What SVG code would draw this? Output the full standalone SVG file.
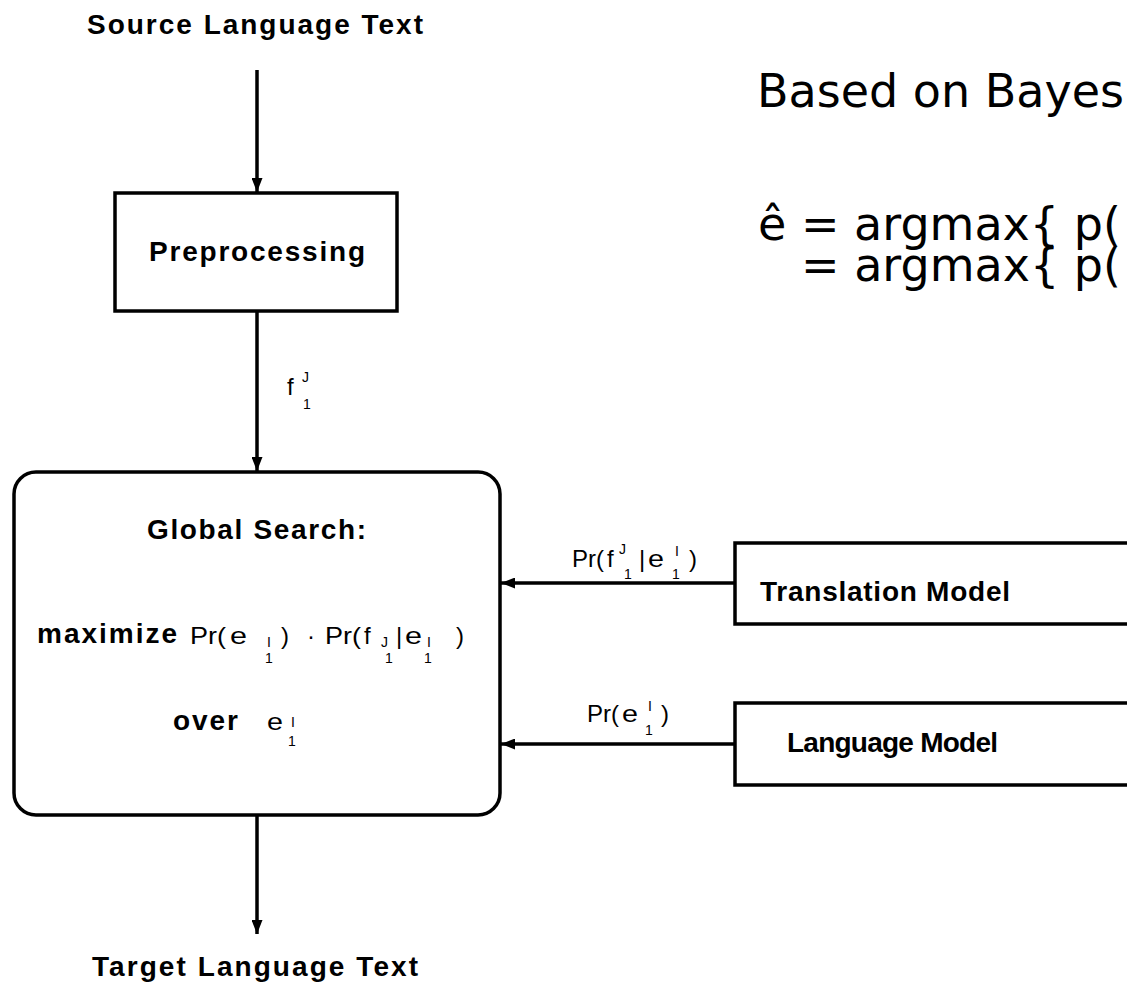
<svg xmlns="http://www.w3.org/2000/svg" width="1127" height="982" viewBox="0 0 1127 982">
  <style>
    .box { fill: #ffffff; stroke: #000000; stroke-width: 3.5; }
    .edge { fill: none; stroke: #000000; stroke-width: 3.5; }
    .lbl { font-family: "Liberation Sans", Arial, sans-serif; font-weight: bold; font-size: 28px; fill: #000000; }
    .math { font-family: "Liberation Sans", Arial, sans-serif; font-size: 24px; fill: #000000; }
    .idx { font-family: "Liberation Sans", Arial, sans-serif; font-size: 14px; fill: #000000; }
    .note { font-family: "DejaVu Sans", Verdana, sans-serif; font-size: 46px; fill: #000000; }
  </style>
  <defs>
    <marker id="arrow" viewBox="0 0 14 11" refX="14" refY="5.5" markerWidth="14" markerHeight="11" markerUnits="userSpaceOnUse" orient="auto">
      <path d="M0,0 L14,5.5 L0,11 Z" fill="#000000"/>
    </marker>
  </defs>

  <rect width="1127" height="982" fill="#ffffff"/>

  <!-- connectors -->
  <g id="connectors">
    <line class="edge" x1="257" y1="70" x2="257" y2="192" marker-end="url(#arrow)"/>
    <line class="edge" x1="257" y1="312" x2="257" y2="471" marker-end="url(#arrow)"/>
    <line class="edge" x1="257" y1="816" x2="257" y2="934" marker-end="url(#arrow)"/>
    <line class="edge" x1="735" y1="583" x2="501" y2="583" marker-end="url(#arrow)"/>
    <line class="edge" x1="735" y1="744" x2="501" y2="744" marker-end="url(#arrow)"/>
    <!-- edge labels -->
    <g id="label-fJ1">
      <text class="math" x="287" y="395">f</text>
      <text class="idx" x="302" y="382">J</text>
      <text class="idx" x="303" y="409">1</text>
    </g>
    <g id="label-translation">
      <text class="math" x="572" y="567" textLength="32" lengthAdjust="spacingAndGlyphs">Pr(</text>
      <text class="math" x="607" y="567">f</text>
      <text class="idx" x="619" y="554">J</text>
      <text class="idx" x="624" y="579">1</text>
      <text class="math" x="639" y="567">|</text>
      <text class="math" x="648" y="567" textLength="16" lengthAdjust="spacingAndGlyphs">e</text>
      <text class="idx" x="675" y="556">I</text>
      <text class="idx" x="672" y="579">1</text>
      <text class="math" x="689" y="567">)</text>
    </g>
    <g id="label-language">
      <text class="math" x="587" y="722" textLength="32" lengthAdjust="spacingAndGlyphs">Pr(</text>
      <text class="math" x="622" y="722" textLength="16" lengthAdjust="spacingAndGlyphs">e</text>
      <text class="idx" x="648" y="711">I</text>
      <text class="idx" x="645" y="735">1</text>
      <text class="math" x="661" y="722">)</text>
    </g>
  </g>

  <!-- terminals -->
  <g id="source">
    <text class="lbl" x="87" y="34" textLength="336" lengthAdjust="spacing">Source Language Text</text>
  </g>
  <g id="target">
    <text class="lbl" x="92" y="976" textLength="326" lengthAdjust="spacing">Target Language Text</text>
  </g>

  <!-- nodes -->
  <g id="preprocessing">
    <rect class="box" x="115" y="193" width="282" height="118"/>
    <text class="lbl" x="149" y="261" textLength="216" lengthAdjust="spacing">Preprocessing</text>
  </g>

  <g id="global-search">
    <rect class="box" x="14" y="472" width="486" height="343" rx="22" ry="22"/>
    <text class="lbl" x="147" y="539" textLength="219" lengthAdjust="spacing">Global Search:</text>
    <text class="lbl" x="37" y="643" textLength="140" lengthAdjust="spacing">maximize</text>
    <text class="math" x="190" y="644" textLength="36" lengthAdjust="spacingAndGlyphs">Pr(</text>
    <text class="math" x="230" y="644" textLength="17" lengthAdjust="spacingAndGlyphs">e</text>
    <text class="idx" x="267" y="647">I</text>
    <text class="idx" x="265" y="663">1</text>
    <text class="math" x="281" y="644">)</text>
    <text class="math" x="307" y="644">·</text>
    <text class="math" x="325" y="644" textLength="36" lengthAdjust="spacingAndGlyphs">Pr(</text>
    <text class="math" x="364" y="644">f</text>
    <text class="idx" x="381" y="647">J</text>
    <text class="idx" x="385" y="663">1</text>
    <text class="math" x="396" y="644">|</text>
    <text class="math" x="405" y="644" textLength="17" lengthAdjust="spacingAndGlyphs">e</text>
    <text class="idx" x="427" y="647">I</text>
    <text class="idx" x="424" y="663">1</text>
    <text class="math" x="456" y="644">)</text>
    <text class="lbl" x="173" y="730" textLength="65" lengthAdjust="spacing">over</text>
    <text class="math" x="267" y="730" textLength="16" lengthAdjust="spacingAndGlyphs">e</text>
    <text class="idx" x="291" y="727">I</text>
    <text class="idx" x="288" y="746">1</text>
  </g>

  <g id="translation-model">
    <rect class="box" x="735" y="543" width="420" height="81"/>
    <text class="lbl" x="760" y="601" textLength="250" lengthAdjust="spacing">Translation Model</text>
  </g>

  <g id="language-model">
    <rect class="box" x="735" y="703" width="420" height="82"/>
    <text class="lbl" x="787" y="752" textLength="211" lengthAdjust="spacing">Language Model</text>
  </g>

  <!-- Bayes decision rule note -->
  <g id="bayes-note">
    <text class="note" x="757" y="107">Based on Bayes</text>
    <text class="note" x="758" y="240">ê = argmax{ p(</text>
    <text class="note" x="801" y="281">= argmax{ p(</text>
  </g>
</svg>
